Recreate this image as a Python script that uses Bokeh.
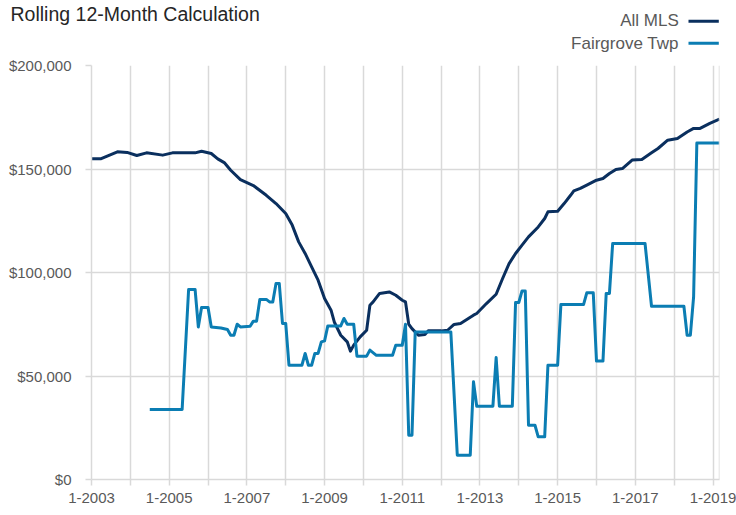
from bokeh.plotting import figure
from bokeh.layouts import column
from bokeh.models import (FixedTicker, NumeralTickFormatter, Span, Range1d)
from bokeh.core.properties import value
from bokeh.embed import file_html
from bokeh.resources import INLINE

# ---------------- data ----------------
all_mls_months = [
    "1-2003", "4-2003", "9-2003", "12-2003", "3-2004", "6-2004", "11-2004",
    "2-2005", "9-2005", "11-2005", "2-2006", "4-2006", "6-2006", "8-2006",
    "11-2006", "3-2007", "7-2007", "10-2007", "1-2008", "3-2008", "5-2008",
    "7-2008", "9-2008", "11-2008", "1-2009", "3-2009", "4-2009", "6-2009",
    "8-2009", "9-2009", "10-2009", "12-2009", "2-2010", "3-2010", "4-2010",
    "6-2010", "9-2010", "11-2010", "1-2011", "2-2011", "3-2011", "4-2011",
    "6-2011", "8-2011", "9-2011", "1-2012", "3-2012", "5-2012", "7-2012",
    "11-2012", "12-2012", "3-2013", "6-2013", "8-2013", "10-2013", "12-2013",
    "2-2014", "4-2014", "7-2014", "9-2014", "10-2014", "1-2015", "3-2015",
    "5-2015", "6-2015", "8-2015", "10-2015", "1-2016", "3-2016", "5-2016",
    "7-2016", "9-2016", "12-2016", "3-2017", "6-2017", "8-2017", "11-2017",
    "2-2018", "5-2018", "7-2018", "9-2018", "12-2018", "3-2019",
]
all_mls_values = [
    155000, 155000, 158300, 158000, 156500, 157800, 156700,
    157800, 157800, 158600, 157500, 154900, 153100, 149400,
    144900, 142000, 137300, 133300, 128500, 122900, 114800,
    109200, 102700, 96300, 87400, 81800, 76100, 69700,
    66500, 62000, 64900, 68900, 72100, 84200, 85800,
    89900, 90600, 89000, 86600, 85800, 75000, 72900,
    69700, 70000, 71800, 71800, 72100, 74900, 75400,
    79400, 80200, 85000, 89500, 97100, 104300, 109200,
    113200, 117200, 122000, 126100, 129300, 129600, 133300,
    137300, 139400, 140600, 142200, 144600, 145400, 147800,
    149800, 150200, 154300, 154600, 157800, 159900, 163900,
    164700, 167900, 169600, 169600, 172000, 174100,
]

fairgrove_months = [
    "7-2004", "5-2005", "7-2005", "9-2005", "10-2005", "11-2005", "1-2006",
    "2-2006", "5-2006", "7-2006", "8-2006", "9-2006", "10-2006", "11-2006",
    "2-2007", "3-2007", "4-2007", "5-2007", "7-2007", "8-2007", "9-2007",
    "10-2007", "11-2007", "12-2007", "1-2008", "2-2008", "6-2008", "7-2008",
    "8-2008", "9-2008", "10-2008", "11-2008", "12-2008", "1-2009", "2-2009",
    "6-2009", "7-2009", "8-2009", "10-2009", "11-2009", "2-2010", "3-2010",
    "5-2010", "10-2010", "11-2010", "1-2011", "2-2011", "3-2011", "4-2011",
    "5-2011", "4-2012", "6-2012", "10-2012", "11-2012", "12-2012", "5-2013",
    "6-2013", "7-2013", "11-2013", "12-2013", "1-2014", "2-2014", "3-2014",
    "4-2014", "6-2014", "7-2014", "9-2014", "10-2014", "1-2015", "2-2015",
    "9-2015", "10-2015", "12-2015", "1-2016", "3-2016", "4-2016", "5-2016",
    "6-2016", "4-2017", "6-2017", "4-2018", "5-2018", "6-2018", "7-2018",
    "8-2018", "3-2019",
]
fairgrove_values = [
    33800, 33800, 91800, 91800, 73700, 83100, 83100,
    73700, 73200, 72500, 69700, 69700, 75000, 73700,
    74000, 76500, 76500, 87000, 87000, 85800, 85800,
    94700, 94700, 75400, 75400, 55200, 55200, 60900,
    55200, 55200, 60900, 60900, 66500, 67000, 74200,
    74200, 77800, 75000, 75000, 59600, 59600, 62500,
    60000, 60000, 64900, 64900, 75000, 21400, 21400,
    71300, 71300, 11700, 11700, 47200, 35400, 35400,
    58900, 35400, 35400, 85500, 85500, 91100, 91100,
    26200, 26200, 20600, 20600, 55200, 55200, 84500,
    84500, 90200, 90200, 57200, 57200, 89900, 89900,
    114000, 114000, 83700, 83700, 69700, 69700, 88200,
    162600, 162600,
]

series_names = ["All MLS", "Fairgrove Twp"]
x_tick_years = list(range(2003, 2020))
x_tick_labels = ["1-2003", "", "1-2005", "", "1-2007", "", "1-2009", "",
                 "1-2011", "", "1-2013", "", "1-2015", "", "1-2017", "",
                 "1-2019"]
y_ticks = [0, 50000, 100000, 150000, 200000]
chart_title = "Rolling 12-Month Calculation"

# ---------------- styling ----------------
NAVY = "#0a2f5e"
BLUE = "#0b7db3"
GRID = "#d9d9d9"
TXT = "#595959"
FONT = "Liberation Sans"
W = 736
TOP_H = 55
BOT_H = 515 - TOP_H


def to_year(s):
    m, y = s.split("-")
    return int(y) + (int(m) - 1) / 12.0


all_x = [to_year(s) for s in all_mls_months]
fair_x = [to_year(s) for s in fairgrove_months]
X_END = to_year(all_mls_months[-1])

# ---------------- header strip: title + legend ----------------
head = figure(width=W, height=TOP_H, output_backend="svg",
              toolbar_location=None, x_range=Range1d(0, W),
              y_range=Range1d(TOP_H, 0), min_border=0,
              x_axis_location=None, y_axis_location=None,
              frame_align=False)
head.outline_line_color = None
head.xgrid.visible = False
head.ygrid.visible = False
head.background_fill_color = "white"
head.border_fill_color = "white"

head.text(x=[10], y=[13], text=[chart_title], text_font=value(FONT),
          text_font_size="19.5px", text_color="#262626",
          text_align="left", text_baseline="middle")
head.text(x=[678.3, 678.3], y=[20.2, 42.7], text=series_names,
          text_font=value(FONT), text_font_size="17px", text_color=TXT,
          text_align="right", text_baseline="middle")
head.segment(x0=[688, 688], y0=[20.7, 42.7], x1=[718.3, 718.3],
             y1=[20.7, 42.7], line_color=[NAVY, BLUE], line_width=3)

# ---------------- main chart ----------------
p = figure(width=W, height=BOT_H, output_backend="svg", toolbar_location=None,
           x_range=Range1d(2003, X_END), y_range=Range1d(0, 200000),
           min_border_left=91, min_border_right=17,
           min_border_top=65 - TOP_H, min_border_bottom=36,
           frame_align=False)
p.outline_line_color = None
p.background_fill_color = "white"
p.border_fill_color = "white"

xa = p.xaxis[0]
xa.ticker = FixedTicker(ticks=x_tick_years)
xa.major_label_overrides = {yr: lbl for yr, lbl in
                            zip(x_tick_years, x_tick_labels)}
xa.major_label_text_font = FONT
xa.major_label_text_font_size = "15px"
xa.major_label_text_color = TXT
xa.axis_line_color = GRID
xa.axis_line_width = 1.5
xa.major_tick_line_color = GRID
xa.major_tick_line_width = 1.5
xa.major_tick_out = 6
xa.major_tick_in = 0
xa.minor_tick_line_color = None
xa.major_label_standoff = 7

ya = p.yaxis[0]
ya.ticker = FixedTicker(ticks=y_ticks)
ya.formatter = NumeralTickFormatter(format="$0,0")
ya.major_label_text_font = FONT
ya.major_label_text_font_size = "15px"
ya.major_label_text_color = TXT
ya.axis_line_color = GRID
ya.axis_line_width = 1.5
ya.major_tick_line_color = GRID
ya.major_tick_line_width = 1.5
ya.major_tick_out = 6
ya.major_tick_in = 0
ya.minor_tick_line_color = None
ya.major_label_standoff = 14

p.xgrid.grid_line_color = GRID
p.xgrid.grid_line_width = 1.5
p.ygrid.grid_line_color = GRID
p.ygrid.grid_line_width = 1.5

p.add_layout(Span(location=X_END, dimension="height", line_color=GRID,
                  line_width=1.5))

p.line(x=all_x, y=all_mls_values, line_color=NAVY, line_width=3,
       line_join="round")
p.line(x=fair_x, y=fairgrove_values, line_color=BLUE, line_width=3,
       line_join="round")

layout = column(head, p, spacing=0)
open("out.html", "w").write(file_html(layout, INLINE))
